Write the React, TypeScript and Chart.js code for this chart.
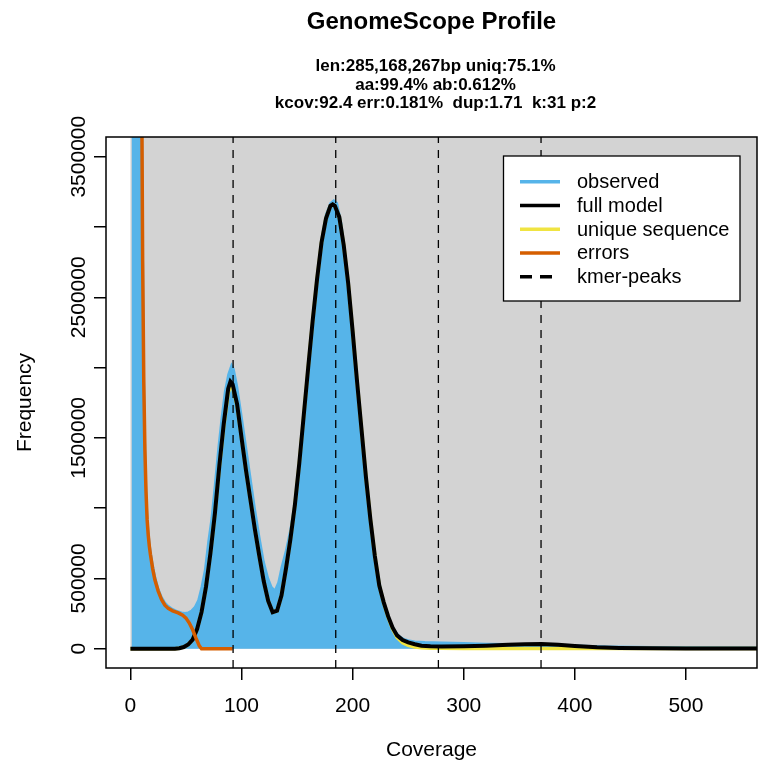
import React, { useEffect, useRef } from 'react';
import { Chart, registerables } from 'chart.js';

Chart.register(...registerables);

// ---------- text ----------
const TITLE = 'GenomeScope Profile';
const SUBTITLE_LINES = [
  'len:285,168,267bp uniq:75.1%',
  'aa:99.4% ab:0.612%',
  'kcov:92.4 err:0.181%  dup:1.71  k:31 p:2',
];
const X_LABEL = 'Coverage';
const Y_LABEL = 'Frequency';

// ---------- axes ----------
const X_RANGE = [-22, 564];
const Y_RANGE = [-137000, 3640000];
const X_TICKS = [0, 100, 200, 300, 400, 500];
const Y_TICKS = [0, 500000, 1000000, 1500000, 2000000, 2500000, 3000000, 3500000];
const Y_LABELED_TICKS = [0, 500000, 1500000, 2500000, 3500000];

// ---------- k-mer peaks ----------
const KMER_PEAKS = [92.4, 184.8, 277.2, 369.6];

// ---------- observed histogram ----------
const OBS_COV = [
  1, 2, 3, 4, 5, 6, 7, 8, 9, 10, 11, 12, 13, 14, 15, 16, 17, 18, 20, 22, 25, 28, 31, 34, 38, 42, 46, 49,
  52, 55, 58, 61, 64, 67, 70, 73, 76, 79, 82, 85, 88, 91, 93, 96, 100, 104, 108, 112, 116, 120, 124, 127,
  130, 133, 136, 140, 144, 148, 152, 156, 160, 164, 168, 172, 176, 180, 183, 186, 190, 194, 198, 202, 206,
  210, 214, 218, 222, 226, 230, 234, 238, 242, 246, 250, 256, 265, 280, 300, 320, 340, 360, 380, 400, 430,
  470, 520, 575,
];
const OBS_FREQ = [
  60000000, 30000000, 16000000, 10000000, 7500000, 6200000, 5600000, 5100000, 4700000, 4300000, 3100000,
  2050000, 1520000, 1180000, 975000, 850000, 770000, 700000, 600000, 520000, 430000, 370000, 330000, 305000,
  283000, 268000, 258000, 254000, 258000, 272000, 298000, 345000, 440000, 560000, 760000, 930000, 1170000,
  1420000, 1640000, 1830000, 1950000, 2020000, 1990000, 1870000, 1660000, 1440000, 1220000, 1000000, 800000,
  620000, 500000, 440000, 415000, 470000, 580000, 700000, 850000, 1050000, 1330000, 1670000, 2030000,
  2360000, 2660000, 2920000, 3090000, 3170000, 3190000, 3170000, 3020000, 2760000, 2440000, 2080000,
  1720000, 1370000, 1060000, 790000, 570000, 400000, 280000, 190000, 128000, 90000, 70000, 60000, 52000,
  48000, 45000, 40000, 36000, 34000, 33000, 29000, 23000, 16000, 12000, 10000, 9000,
];

// ---------- fitted model (full model + unique sequence) ----------
const MODEL_COV = [
  0, 40, 44, 48, 52, 56, 60, 64, 68, 72, 76, 80, 84, 88, 90, 92, 96, 100, 104, 108, 112, 116, 120, 124, 128,
  132, 136, 140, 144, 148, 152, 156, 160, 164, 168, 172, 176, 180, 182, 184, 188, 192, 196, 200, 204, 208,
  212, 216, 220, 224, 228, 232, 236, 240, 245, 250, 256, 262, 270, 280, 300, 320, 340, 355, 370, 385, 400,
  420, 440, 470, 500, 540, 575,
];
const MODEL_FREQ = [
  0, 0, 4000, 12000, 30000, 65000, 140000, 260000, 440000, 680000, 960000, 1300000, 1600000, 1850000,
  1900000, 1880000, 1740000, 1500000, 1270000, 1060000, 850000, 660000, 480000, 340000, 260000, 270000,
  380000, 570000, 780000, 1020000, 1320000, 1660000, 2000000, 2330000, 2630000, 2890000, 3060000, 3150000,
  3160000, 3150000, 3070000, 2870000, 2600000, 2260000, 1900000, 1560000, 1220000, 920000, 660000, 450000,
  330000, 230000, 150000, 95000, 62000, 45000, 32000, 22000, 17000, 16000, 18000, 22000, 28000, 32000,
  33000, 28000, 20000, 11000, 6000, 3000, 2000, 1000, 1000,
];
const UNIQUE_FREQ = [
  0, 0, 4000, 12000, 30000, 65000, 140000, 260000, 440000, 680000, 955000, 1290000, 1580000, 1820000,
  1870000, 1860000, 1730000, 1500000, 1270000, 1060000, 850000, 660000, 480000, 340000, 260000, 270000,
  380000, 570000, 780000, 1020000, 1320000, 1660000, 2000000, 2330000, 2630000, 2890000, 3060000, 3150000,
  3160000, 3150000, 3070000, 2870000, 2600000, 2260000, 1900000, 1560000, 1220000, 920000, 660000, 450000,
  325000, 222000, 140000, 80000, 42000, 25000, 13000, 7000, 4000, 3000, 2000, 2000, 2000, 2000, 2000,
  2000, 2000, 1000, 1000, 1000, 1000, 1000, 1000,
];

// ---------- errors ----------
const ERR_COV = [1, 4, 7, 9, 10, 11, 12, 13, 14, 15, 16, 17, 18, 20, 22, 25, 28, 31, 34, 38, 43, 47, 50, 53, 56, 59, 62, 64, 92];
const ERR_FREQ = [
  90000000, 30000000, 10000000, 6000000, 4200000, 2750000, 1900000, 1420000, 1120000, 920000, 810000,
  730000, 670000, 570000, 490000, 410000, 350000, 310000, 287000, 270000, 255000, 238000, 218000, 183000,
  135000, 75000, 20000, 0, 0,
];

// ---------- styles ----------
const FONT = "'Liberation Sans', Arial, Helvetica, sans-serif";
const C_OBS = '#56B4E9';
const C_MODEL = '#000000';
const C_UNIQUE = '#F0E442';
const C_ERR = '#D55E00';
const C_BG = '#D3D3D3';

const LEGEND_ITEMS = [
  { label: 'observed', color: C_OBS, dash: [] as number[] },
  { label: 'full model', color: C_MODEL, dash: [] as number[] },
  { label: 'unique sequence', color: C_UNIQUE, dash: [] as number[] },
  { label: 'errors', color: C_ERR, dash: [] as number[] },
  { label: 'kmer-peaks', color: '#000000', dash: [12, 8] },
];

const pts = (xs: number[], ys: number[]) => xs.map((x, i) => ({ x, y: ys[i] }));

const decorPlugin = {
  id: 'decor',
  beforeDatasetsDraw(chart: any) {
    const { ctx, chartArea: a, scales } = chart;
    const x0 = scales.x.getPixelForValue(0);
    const y0 = scales.y.getPixelForValue(0);
    ctx.save();
    ctx.fillStyle = C_BG;
    ctx.fillRect(x0, a.top, a.right - x0, y0 - a.top);
    ctx.restore();
  },
  afterDraw(chart: any) {
    const { ctx, chartArea: a, scales } = chart;
    const cx = (a.left + a.right) / 2;
    const cy = (a.top + a.bottom) / 2;
    ctx.save();
    // plot box
    ctx.strokeStyle = '#000';
    ctx.lineWidth = 1.5;
    ctx.strokeRect(a.left, a.top, a.right - a.left, a.bottom - a.top);

    ctx.fillStyle = '#000';
    ctx.textAlign = 'center';
    ctx.textBaseline = 'alphabetic';
    // titles
    ctx.font = `bold 24px ${FONT}`;
    ctx.fillText(TITLE, cx, 29);
    ctx.font = `bold 17px ${FONT}`;
    SUBTITLE_LINES.forEach((t, i) => ctx.fillText(t, cx + 4, 71 + i * 18.5));

    // x tick labels
    ctx.font = `21px ${FONT}`;
    scales.x.ticks.forEach((t: any) => {
      ctx.fillText(String(t.value), scales.x.getPixelForValue(t.value), a.bottom + 44);
    });
    // x title
    ctx.fillText(X_LABEL, cx, a.bottom + 88);

    // y tick labels (rotated)
    scales.y.ticks.forEach((t: any) => {
      if (!Y_LABELED_TICKS.includes(t.value)) return;
      ctx.save();
      ctx.translate(a.left - 21.5, scales.y.getPixelForValue(t.value));
      ctx.rotate(-Math.PI / 2);
      ctx.fillText(String(t.value), 0, 0);
      ctx.restore();
    });
    // y title
    ctx.save();
    ctx.translate(31, cy);
    ctx.rotate(-Math.PI / 2);
    ctx.fillText(Y_LABEL, 0, 0);
    ctx.restore();

    // legend
    const lx0 = a.right - 253.5;
    const lx1 = a.right - 17;
    const ly0 = a.top + 19;
    const ly1 = a.top + 164;
    ctx.fillStyle = '#fff';
    ctx.fillRect(lx0, ly0, lx1 - lx0, ly1 - ly0);
    ctx.strokeStyle = '#000';
    ctx.lineWidth = 1.3;
    ctx.strokeRect(lx0, ly0, lx1 - lx0, ly1 - ly0);
    ctx.font = `20px ${FONT}`;
    ctx.textAlign = 'left';
    ctx.textBaseline = 'middle';
    LEGEND_ITEMS.forEach((it, i) => {
      const yy = ly0 + 25.7 + i * 23.75;
      ctx.strokeStyle = it.color;
      ctx.lineWidth = 3.5;
      ctx.setLineDash(it.dash);
      ctx.beginPath();
      ctx.moveTo(lx0 + 16.5, yy);
      ctx.lineTo(lx0 + 56.5, yy);
      ctx.stroke();
      ctx.setLineDash([]);
      ctx.fillStyle = '#000';
      ctx.fillText(it.label, lx0 + 73.5, yy + 1);
    });
    ctx.restore();
  },
};

export default function App() {
  const ref = useRef<HTMLCanvasElement>(null);
  useEffect(() => {
    const canvas = ref.current;
    if (!canvas) return;
    const peakSets = KMER_PEAKS.map((p) => ({
      label: 'kmer-peaks',
      data: [
        { x: p, y: Y_RANGE[0] },
        { x: p, y: Y_RANGE[1] },
      ],
      borderColor: '#000',
      borderWidth: 1.3,
      borderDash: [8, 7],
      pointRadius: 0,
      fill: false,
      order: 0,
    }));
    const chart = new Chart(canvas, {
      type: 'line',
      data: {
        datasets: [
          {
            label: 'observed',
            data: pts(OBS_COV, OBS_FREQ),
            borderColor: C_OBS,
            backgroundColor: C_OBS,
            borderWidth: 2,
            pointRadius: 0,
            fill: 'origin',
            order: 6,
          },
          {
            label: 'unique sequence',
            data: pts(MODEL_COV, UNIQUE_FREQ),
            borderColor: C_UNIQUE,
            borderWidth: 3.5,
            pointRadius: 0,
            fill: false,
            order: 4,
          },
          {
            label: 'full model',
            data: pts(MODEL_COV, MODEL_FREQ),
            borderColor: C_MODEL,
            borderWidth: 4,
            pointRadius: 0,
            fill: false,
            order: 2,
          },
          {
            label: 'errors',
            data: pts(ERR_COV, ERR_FREQ),
            borderColor: C_ERR,
            borderWidth: 3.5,
            pointRadius: 0,
            fill: false,
            order: 1,
          },
          ...peakSets,
        ] as any,
      },
      options: {
        responsive: false,
        animation: false,
        events: [],
        layout: { padding: { left: 0, right: 13, top: 137, bottom: 0 } },
        plugins: {
          legend: { display: false },
          tooltip: { enabled: false },
          title: { display: false },
        },
        scales: {
          x: {
            type: 'linear',
            min: X_RANGE[0],
            max: X_RANGE[1],
            ticks: { display: false },
            grid: { drawOnChartArea: false, drawTicks: true, tickLength: 12, color: '#000', lineWidth: 1.5 },
            border: { display: false },
            afterBuildTicks: (s: any) => {
              s.ticks = X_TICKS.map((v) => ({ value: v }));
            },
            afterFit: (s: any) => {
              s.height = 109;
            },
          },
          y: {
            type: 'linear',
            min: Y_RANGE[0],
            max: Y_RANGE[1],
            ticks: { display: false },
            grid: { drawOnChartArea: false, drawTicks: true, tickLength: 12, color: '#000', lineWidth: 1.5 },
            border: { display: false },
            afterBuildTicks: (s: any) => {
              s.ticks = Y_TICKS.map((v) => ({ value: v }));
            },
            afterFit: (s: any) => {
              s.width = 106;
            },
          },
        },
      } as any,
      plugins: [decorPlugin],
    });
    return () => chart.destroy();
  }, []);
  return (
    <div style={{ position: 'fixed', left: 0, top: 0, width: 770, height: 777, background: '#fff' }}>
      <canvas ref={ref} width={770} height={777} style={{ display: 'block', width: 770, height: 777 }} />
    </div>
  );
}
